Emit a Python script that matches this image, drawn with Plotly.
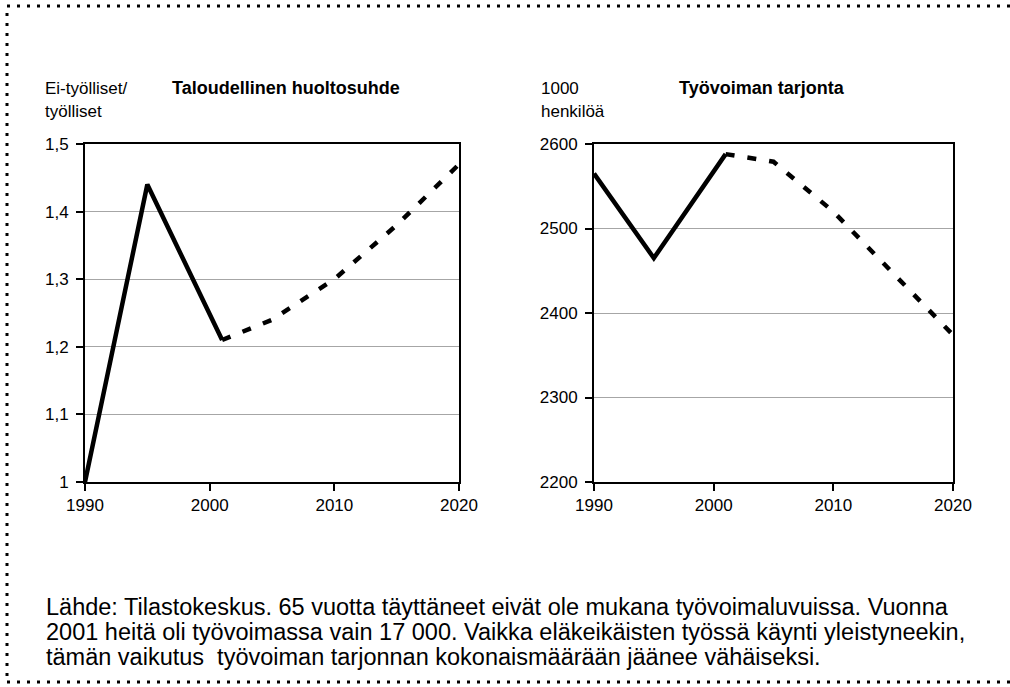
import plotly.graph_objects as go

W, H = 1010, 687

# Taloudellinen huoltosuhde (ei-työlliset / työlliset)
ratio_years = [1990, 1995, 2001]
ratio_vals = [1.00, 1.44, 1.21]
ratio_proj_years = [2001, 2005, 2010, 2015, 2020]
ratio_proj_vals = [1.21, 1.24, 1.30, 1.38, 1.47]

# Työvoiman tarjonta (1000 henkilöä)
supply_years = [1990, 1995, 2001]
supply_vals = [2565, 2465, 2588]
supply_proj_years = [2001, 2005, 2010, 2015, 2020]
supply_proj_vals = [2588, 2579, 2520, 2447, 2374]

x_ticks = [1990, 2000, 2010, 2020]
ratio_ticks = [1.0, 1.1, 1.2, 1.3, 1.4, 1.5]
supply_ticks = [2200, 2300, 2400, 2500, 2600]

footer = [
    "Lähde: Tilastokeskus. 65 vuotta täyttäneet eivät ole mukana työvoimaluvuissa. Vuonna",
    "2001 heitä oli työvoimassa vain 17 000. Vaikka eläkeikäisten työssä käynti yleistyneekin,",
    "tämän vaikutus  työvoiman tarjonnan kokonaismäärään jäänee vähäiseksi.",
]

FONT = "Liberation Sans, Arial, sans-serif"


def px(x):
    return x / W


def py(y):
    return 1 - y / H


solid = dict(color="black", width=4.5)
dashed = dict(color="black", width=4.5, dash="9px,13px")

fig = go.Figure()
fig.add_trace(go.Scatter(x=ratio_years, y=ratio_vals, mode="lines", line=solid,
                         xaxis="x", yaxis="y"))
fig.add_trace(go.Scatter(x=ratio_proj_years, y=ratio_proj_vals, mode="lines", line=dashed,
                         xaxis="x", yaxis="y"))
fig.add_trace(go.Scatter(x=supply_years, y=supply_vals, mode="lines", line=solid,
                         xaxis="x2", yaxis="y2"))
fig.add_trace(go.Scatter(x=supply_proj_years, y=supply_proj_vals, mode="lines", line=dashed,
                         xaxis="x2", yaxis="y2"))

ax_common = dict(showline=True, linecolor="black", linewidth=2, mirror=True,
                 ticks="outside", ticklen=7, tickwidth=1.5, tickcolor="black",
                 tickfont=dict(family=FONT, size=17, color="black"), zeroline=False,
                 automargin=False)

x_common = dict(ax_common, range=[1990, 2020], tickvals=x_ticks, showgrid=False)
y_dom = [py(482), py(144)]

fig.update_layout(
    template="none",
    width=W, height=H,
    margin=dict(l=0, r=0, t=0, b=0, pad=0),
    paper_bgcolor="white", plot_bgcolor="white",
    showlegend=False,
    separators=", ",
    font=dict(family=FONT, color="black"),
    xaxis=dict(x_common, domain=[px(85), px(459)], anchor="y"),
    yaxis=dict(ax_common, domain=y_dom, anchor="x", range=[1.0, 1.5],
               tickvals=ratio_ticks, showgrid=True, gridcolor="#a6a6a6", gridwidth=1,
               ticklabelstandoff=4),
    xaxis2=dict(x_common, domain=[px(594), px(953)], anchor="y2"),
    yaxis2=dict(ax_common, domain=y_dom, anchor="x2", range=[2200, 2600],
                tickvals=supply_ticks, showgrid=True, gridcolor="#a6a6a6", gridwidth=1,
                ticklabelstandoff=4),
)

# dotted frame around the whole figure
fig.add_shape(type="rect", xref="paper", yref="paper",
              x0=px(7), x1=1.05, y0=py(682), y1=py(6),
              line=dict(color="black", width=3, dash="3px,7px"))


def label(text, x, y, size=17, bold=False):
    if bold:
        text = "<b>" + text + "</b>"
    fig.add_annotation(text=text, x=px(x), y=py(y), xref="paper", yref="paper",
                       xanchor="left", yanchor="middle", showarrow=False,
                       font=dict(family=FONT, size=size, color="black"))


label("Ei-työlliset/", 43, 88)
label("työlliset", 43, 111)
label("Taloudellinen huoltosuhde", 170, 88, size=18, bold=True)
label("1000", 539, 88)
label("henkilöä", 539, 111)
label("Työvoiman tarjonta", 677, 88, size=18, bold=True)

for i, line in enumerate(footer):
    label(line, 44, 607 + 25 * i, size=23.5)

# page body has an 8px default margin; drop it so the figure sits at the window corner
fig.write_html("out.html", config={"displayModeBar": False},
               post_script="document.body.style.margin='0';")
